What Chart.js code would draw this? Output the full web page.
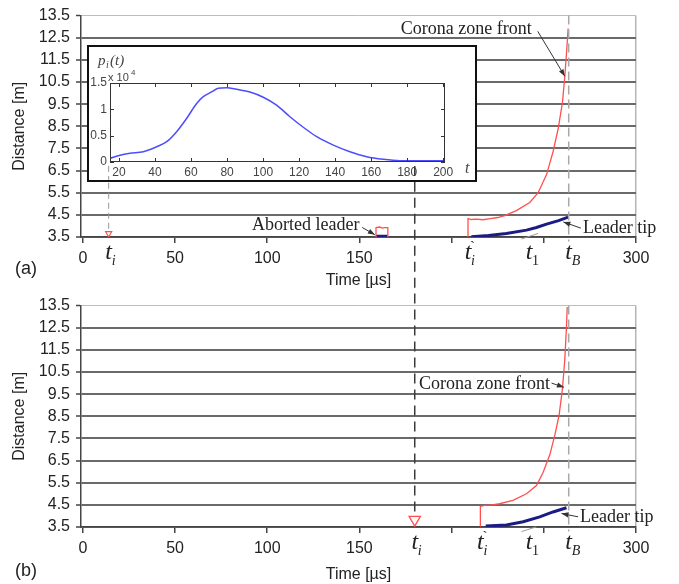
<!DOCTYPE html>
<html><head><meta charset="utf-8">
<script src="https://cdn.jsdelivr.net/npm/chart.js@4/dist/chart.umd.min.js"></script>
<style>
html,body{margin:0;padding:0;background:#fff;}
#wrap{position:relative;width:679px;height:584px;overflow:hidden;background:#fff;}
canvas{position:absolute;}
#cA{left:0;top:0;}
#cB{left:0;top:290px;}
#inset{position:absolute;left:87px;top:45px;width:390px;height:137px;border:2px solid #111;box-sizing:border-box;background:#fff;}
#cI{left:0;top:0;}
</style></head><body>
<div id="wrap">
<canvas id="cA" width="679" height="290"></canvas>
<canvas id="cB" width="679" height="294"></canvas>
<div id="inset"><canvas id="cI" width="386" height="133"></canvas></div>
</div>
<script>
// ---------- data ----------
const distanceTicks = [3.5,4.5,5.5,6.5,7.5,8.5,9.5,10.5,11.5,12.5,13.5];
const timeTicks = [0,50,100,150,200,250,300];
const timeTickLabels = ['0','50','100','150','','','300'];

// panel (a)
const coronaA_t = [208.9,208.9,210.7,213.5,217,221,225,228.8,235.1,242.4,246.9,251.5,255,257.8,260.1,261.4,262.3,263.2];
const coronaA_d = [3.5,4.33,4.29,4.31,4.28,4.33,4.38,4.47,4.69,5.06,5.5,6.32,7.35,8.39,9.57,10.76,11.8,12.92];
const leaderA_t = [210.7,220,229.7,240.6,246,251.5,258,263.2];
const leaderA_d = [3.51,3.57,3.66,3.81,3.93,4.08,4.24,4.4];
const abortedRed_t = [159,159,161,162.5,163.5,165.4,165.4];
const abortedRed_d = [3.5,3.93,3.95,3.9,3.92,3.92,3.5];
const abortedBlue_t = [159,165.4];
const abortedBlue_d = [3.53,3.53];
const tangentA_t = [237.9,246.9];
const tangentA_d = [3.41,3.66];
const tiA = 14, tiPrimeA = 208.9;

// panel (b)
const coronaB_t = [215.6,215.6,217.9,222,226,233.3,240.6,246,249.6,253.3,256,258.3,260.1,261.4,262.3,262.7];
const coronaB_d = [3.51,4.43,4.48,4.5,4.55,4.7,5.0,5.37,5.96,6.77,7.66,8.55,9.74,11.07,12.55,13.44];
const leaderB_t = [218.5,229.7,238.8,247.8,255,262.3];
const leaderB_d = [3.54,3.59,3.74,3.96,4.18,4.37];
const tangentB_t = [237.9,246];
const tangentB_d = [3.29,3.51];
const tiB = 180, tiPrimeB = 215.6;

const t1 = 242, tB = 263.5;

// inset p_i(t)
const inset_t = [15,20.6,26.1,33.5,40.9,46.5,52,57.6,63.1,66.8,71.4,75.1,79.8,85.3,92.7,100.1,107.5,114.9,122.3,129.8,139,148.2,157.5,166.7,176,185,200];
const inset_p = [0.07,0.13,0.165,0.195,0.29,0.385,0.575,0.83,1.11,1.24,1.33,1.40,1.41,1.38,1.33,1.23,1.08,0.86,0.66,0.48,0.32,0.195,0.10,0.05,0.025,0.025,0.025];
const insetXTicks = [20,40,60,80,100,120,140,160,180,200];
const insetYTicks = [0,0.5,1,1.5];

// ---------- helpers ----------
Chart.defaults.font.family = '"Liberation Sans", Arial, sans-serif';
Chart.defaults.color = '#333';
const pts = (ts, ds) => ts.map((t,i)=>({x:t,y:ds[i]}));
const RED = '#ff4f4f', NAVY = '#1b1b85';

function lineDs(data, color, width, extra) {
  return Object.assign({data, showLine:true, borderColor:color, backgroundColor:color, borderWidth:width, pointRadius:0, tension:0, fill:false}, extra||{});
}

function arrow(ctx, x1, y1, x2, y2) {
  ctx.beginPath(); ctx.moveTo(x1,y1); ctx.lineTo(x2,y2); ctx.stroke();
  const a = Math.atan2(y2-y1, x2-x1), L = 7, W = 2.6;
  ctx.beginPath();
  ctx.moveTo(x2,y2);
  ctx.lineTo(x2 - L*Math.cos(a) + W*Math.sin(a), y2 - L*Math.sin(a) - W*Math.cos(a));
  ctx.lineTo(x2 - L*Math.cos(a) - W*Math.sin(a), y2 - L*Math.sin(a) + W*Math.cos(a));
  ctx.closePath(); ctx.fill();
}

function decoPlugin(cfg) {
  return {
    id: 'deco',
    afterDraw(chart) {
      const ctx = chart.ctx, xs = chart.scales.x, ys = chart.scales.y, ca = chart.chartArea;
      ctx.save();
      ctx.fillStyle = '#222'; ctx.textBaseline = 'alphabetic';
      cfg.tLabels.forEach(l => {
        const x = xs.getPixelForValue(l.t), y = ca.bottom + 22;
        ctx.font = 'italic 24px "Liberation Serif"';
        ctx.textAlign = 'center';
        ctx.fillText('t', x, y);
        ctx.textAlign = 'left';
        ctx.font = (l.upright ? '' : 'italic ') + '14px "Liberation Serif"';
        ctx.fillText(l.sub, x + 3, y + 6);
        if (l.prime) { ctx.font = '15px "Liberation Serif"'; ctx.fillText('`', x + 2, y - 8); }
      });
      ctx.font = '18px "Liberation Serif"';
      ctx.strokeStyle = '#333'; ctx.lineWidth = 1;
      cfg.notes.forEach(n => {
        ctx.textAlign = n.align;
        ctx.fillStyle = '#222';
        ctx.fillText(n.text, xs.getPixelForValue(n.t), ys.getPixelForValue(n.d));
        ctx.fillStyle = '#333';
        arrow(ctx, xs.getPixelForValue(n.a[0]), ys.getPixelForValue(n.a[1]), xs.getPixelForValue(n.a[2]), ys.getPixelForValue(n.a[3]));
      });
      ctx.font = '18px "Liberation Sans"';
      ctx.textAlign = 'left'; ctx.fillStyle = '#222';
      ctx.fillText(cfg.letter, 15, chart.height - cfg.letterBottom);
      ctx.restore();
    }
  };
}

function mainOptions(xHeight) {
  return {
    responsive:false, animation:false, devicePixelRatio:1,
    layout:{padding:{top:12,right:43,left:0,bottom:0}},
    plugins:{legend:{display:false}, tooltip:{enabled:false}},
    scales:{
      x:{type:'linear', min:-1, max:300,
        afterBuildTicks: s => { s.ticks = timeTicks.map(v=>({value:v})); },
        afterFit: s => { s.height = xHeight; },
        ticks:{autoSkip:false, maxRotation:0, padding:6, color:'#222', font:{size:16},
          callback:(v,i)=> timeTickLabels[i]},
        grid:{drawOnChartArea:true, color: c => (c.tick && c.tick.value===300) ? '#b5b5b5' : 'rgba(0,0,0,0)',
          lineWidth:1.5, tickColor:'#444', tickLength:6, tickWidth:1.5},
        border:{display:true, color:'#444', width:1.5},
        title:{display:true, text:'Time [µs]', color:'#222', font:{size:16}, padding:{top:1,bottom:0}}
      },
      y:{type:'linear', min:3.5, max:13.5,
        afterBuildTicks: s => { s.ticks = distanceTicks.map(v=>({value:v})); },
        afterFit: s => { s.width = 81; },
        ticks:{autoSkip:false, padding:6, color:'#222', font:{size:16}, callback: v => Number(v).toFixed(1)},
        grid:{color: c => (c.tick && c.tick.value===13.5) ? '#bdbdbd' : '#6a6a6a',
          lineWidth: c => (c.tick && c.tick.value===13.5) ? 1 : 2,
          tickColor:'#444', tickLength:5, tickWidth:1.5},
        border:{display:true, color:'#444', width:1.5},
        title:{display:true, text:'Distance [m]', color:'#222', font:{size:16}, padding:{top:10,bottom:0}}
      }
    }
  };
}

// ---------- panel (a) ----------
const chartA = new Chart(document.getElementById('cA'), {
  type:'scatter',
  data:{datasets:[
    lineDs(pts([tB,tB],[13.5,3.3]), '#a8a8a8', 1.5, {borderDash:[9,5], clip:false}),
    lineDs(pts([tiA,tiA],[5.95,3.8]), '#9a9a9a', 1, {borderDash:[6,4]}),
    lineDs(pts([tiB,tiB],[6.0,1.1]), '#3a3a3a', 1.5, {borderDash:[10,6], clip:false}),
    lineDs(pts(tangentA_t, tangentA_d), '#9a9a9a', 1, {clip:false}),
    lineDs(pts(coronaA_t, coronaA_d), RED, 1.3),
    lineDs(pts(leaderA_t, leaderA_d), NAVY, 3),
    lineDs(pts(abortedRed_t, abortedRed_d), RED, 1.3),
    lineDs(pts(abortedBlue_t, abortedBlue_d), NAVY, 3),
    {data:[{x:tiA,y:3.66}], showLine:false, pointStyle:'triangle', rotation:180, pointRadius:3.5,
      borderColor:RED, backgroundColor:'rgba(255,255,255,1)', borderWidth:1.2}
  ]},
  options: mainOptions(53),
  plugins:[decoPlugin({
    letter:'(a)', letterBottom:16,
    tLabels:[{t:tiA, sub:'i'},{t:tiPrimeA, sub:'i', prime:true},{t:t1, sub:'1', upright:true},{t:tB, sub:'B'}],
    notes:[
      {text:'Corona zone front', t:243.5, d:12.66, align:'right', a:[246.7,12.79,261.4,10.76]},
      {text:'Leader tip', t:271.2, d:3.68, align:'left', a:[270.1,3.9,260.6,4.18]},
      {text:'Aborted leader', t:91.8, d:3.81, align:'left', a:[151.5,3.93,158.4,3.6]}
    ]
  })]
});

// ---------- panel (b) ----------
const chartB = new Chart(document.getElementById('cB'), {
  type:'scatter',
  data:{datasets:[
    lineDs(pts([tB,tB],[13.5,3.3]), '#a8a8a8', 1.5, {borderDash:[9,5], clip:false}),
    lineDs(pts([tiB,tiB],[14.05,4.13]), '#3a3a3a', 1.5, {borderDash:[10,6], clip:false}),
    lineDs(pts(tangentB_t, tangentB_d), '#9a9a9a', 1, {clip:false}),
    lineDs(pts(coronaB_t, coronaB_d), RED, 1.3),
    lineDs(pts(leaderB_t, leaderB_d), NAVY, 3),
    {data:[{x:tiB,y:3.83}], showLine:false, pointStyle:'triangle', rotation:180, pointRadius:6.5,
      borderColor:RED, backgroundColor:'rgba(255,255,255,1)', borderWidth:1.3}
  ]},
  options: mainOptions(57),
  plugins:[decoPlugin({
    letter:'(b)', letterBottom:8,
    tLabels:[{t:tiB, sub:'i'},{t:tiPrimeB, sub:'i', prime:true},{t:t1, sub:'1', upright:true},{t:tB, sub:'B'}],
    notes:[
      {text:'Corona zone front', t:253.3, d:9.74, align:'right', a:[254.2,10.0,260.9,9.81]},
      {text:'Leader tip', t:269.6, d:3.72, align:'left', a:[268.6,3.96,259.6,4.11]}
    ]
  })]
});

// ---------- inset ----------
const insetDeco = {
  id:'insetDeco',
  afterDraw(chart) {
    const ctx = chart.ctx, xs = chart.scales.x, ys = chart.scales.y, ca = chart.chartArea;
    ctx.save();
    ctx.strokeStyle = '#333'; ctx.lineWidth = 1;
    ctx.strokeRect(ca.left+0.5, ca.top+0.5, ca.right-ca.left-1, ca.bottom-ca.top-1);
    ctx.beginPath();
    insetXTicks.forEach(v => { const x = Math.round(xs.getPixelForValue(v))+0.5;
      ctx.moveTo(x, ca.bottom); ctx.lineTo(x, ca.bottom-4);
      ctx.moveTo(x, ca.top); ctx.lineTo(x, ca.top+4); });
    insetYTicks.forEach(v => { const y = Math.round(ys.getPixelForValue(v))+0.5;
      ctx.moveTo(ca.left, y); ctx.lineTo(ca.left+4, y);
      ctx.moveTo(ca.right, y); ctx.lineTo(ca.right-4, y); });
    ctx.stroke();
    const off = document.getElementById('inset').offsetLeft + 2;
    [[tiA,'#9a9a9a',[6,4],1],[tiB,'#3a3a3a',[10,6],1.5]].forEach(([t,c,d,w]) => {
      const x = chartA.scales.x.getPixelForValue(t) - off;
      ctx.strokeStyle = c; ctx.setLineDash(d); ctx.lineWidth = w;
      ctx.beginPath(); ctx.moveTo(x, ca.bottom+4); ctx.lineTo(x, chart.height); ctx.stroke();
    });
    ctx.setLineDash([]);
    ctx.fillStyle = '#444'; ctx.textAlign = 'left'; ctx.textBaseline = 'alphabetic';
    ctx.font = 'italic 15px "Liberation Serif"';
    ctx.fillText('p', 9, 18);
    ctx.font = 'italic 10px "Liberation Serif"';
    ctx.fillText('i', 17, 21);
    ctx.font = 'italic 15px "Liberation Serif"';
    ctx.fillText('(t)', 21, 18);
    ctx.font = '11px "Liberation Sans"';
    ctx.fillText('x 10', 19, 34);
    ctx.font = '8px "Liberation Sans"';
    ctx.fillText('4', 42, 28);
    ctx.font = 'italic 16px "Liberation Serif"';
    ctx.fillText('t', 376, 126);
    ctx.restore();
  }
};

new Chart(document.getElementById('cI'), {
  type:'scatter',
  data:{datasets:[
    lineDs(pts(inset_t, inset_p), '#4d4dff', 1.5, {cubicInterpolationMode:'monotone'})
  ]},
  options:{
    responsive:false, animation:false, devicePixelRatio:1,
    layout:{padding:{top:36,right:30,left:0,bottom:0}},
    plugins:{legend:{display:false}, tooltip:{enabled:false}},
    scales:{
      x:{type:'linear', min:15, max:201,
        afterBuildTicks: s => { s.ticks = insetXTicks.map(v=>({value:v})); },
        afterFit: s => { s.height = 18; },
        ticks:{autoSkip:false, maxRotation:0, padding:3, color:'#444', font:{size:12}},
        grid:{display:false, drawTicks:false, tickLength:0}, border:{display:false}},
      y:{type:'linear', min:0, max:1.5,
        afterBuildTicks: s => { s.ticks = insetYTicks.map(v=>({value:v})); },
        afterFit: s => { s.width = 21; },
        ticks:{autoSkip:false, padding:3, color:'#444', font:{size:12}, callback: v => String(v)},
        grid:{display:false, drawTicks:false, tickLength:0}, border:{display:false}}
    }
  },
  plugins:[insetDeco]
});
</script>
</body></html>
